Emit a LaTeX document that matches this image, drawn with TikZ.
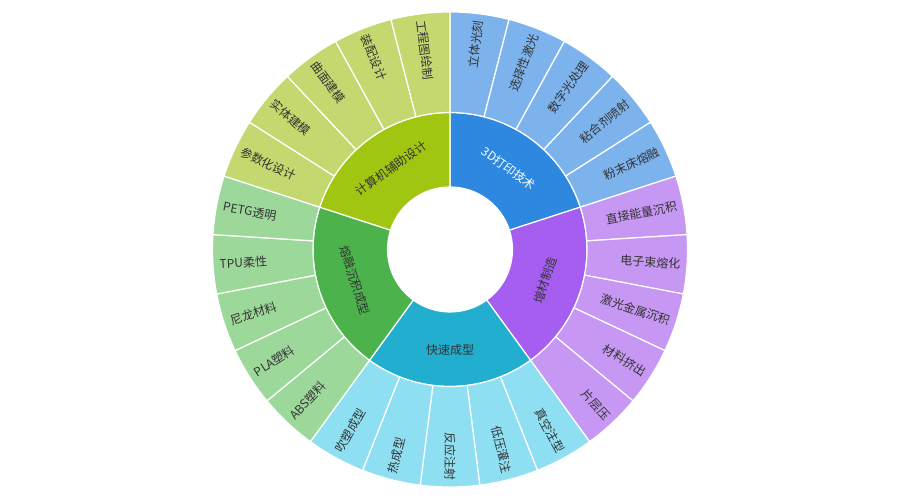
\documentclass[tikz,border=0pt]{standalone}
\usepackage{fontspec}
\setmainfont{Noto Sans CJK SC}
\definecolor{txt}{HTML}{333333}
\definecolor{inner0}{HTML}{2F88E0}
\definecolor{inner1}{HTML}{A65EF0}
\definecolor{inner2}{HTML}{22AECF}
\definecolor{inner3}{HTML}{4CB24C}
\definecolor{inner4}{HTML}{A1C612}
\definecolor{outer0}{HTML}{7DB3EC}
\definecolor{outer1}{HTML}{C697F3}
\definecolor{outer2}{HTML}{8FDFF2}
\definecolor{outer3}{HTML}{9DD89B}
\definecolor{outer4}{HTML}{C4D870}
\newcommand\sbwedge[5]{%
  \path[seg, fill=#5] (#3:#1pt) arc[start angle=#3, end angle=#4, radius=#1pt]
    -- (#4:#2pt) arc[start angle=#4, end angle=#3, radius=#2pt] -- cycle;}
\begin{document}
\begin{tikzpicture}[x=1pt,y=1pt,
  seg/.style={draw=white, line width=1.2pt, line join=round},
  lbl/.style={font=\fontsize{12}{14}\selectfont, text=txt, inner sep=0pt},
]
\fill[white] (0,0) rectangle (900,500);
\useasboundingbox (0,0) rectangle (900,500);
\begin{scope}[shift={(450,250.5)}]
  % inner ring
  \foreach \g in {0,...,4} {
    \pgfmathsetmacro\aa{90-72*\g}
    \pgfmathsetmacro\ab{90-72*(\g+1)}
    \sbwedge{62.5}{137}{\aa}{\ab}{inner\g}
  }
  % outer ring
  \foreach \k in {0,...,24} {
    \pgfmathsetmacro\aa{90-14.4*\k}
    \pgfmathsetmacro\ab{90-14.4*(\k+1)}
    \pgfmathtruncatemacro\gg{\k/5}
    \sbwedge{137}{237.5}{\aa}{\ab}{outer\gg}
  }
  % outer labels
  \foreach \t [count=\i from 0] in {立体光刻,选择性激光,数字光处理,粘合剂喷射,粉末床熔融,
      直接能量沉积,电子束熔化,激光金属沉积,材料挤出,片层压,
      真空注型,低压灌注,反应注射,热成型,吹塑成型,
      ABS塑料,PLA塑料,尼龙材料,TPU柔性,PETG透明,
      参数化设计,实体建模,曲面建模,装配设计,工程图绘制} {
    \pgfmathsetmacro\mid{90-14.4*(\i+0.5)}
    \ifdim \mid pt < -90.5pt
      \node[lbl, rotate=\mid+180, anchor=west] (o\i) at (\mid:231pt) {\t};
    \else
      \node[lbl, rotate=\mid, anchor=east] (o\i) at (\mid:231pt) {\t};
    \fi
  }
  % inner labels
  \node[lbl, text=white, rotate=-36] (c0) at (54:100pt) {3D打印技术};
  \node[lbl, rotate=72] (c1) at (-18:100pt) {增材制造};
  \node[lbl, rotate=0] (c2) at (-90:100pt) {快速成型};
  \node[lbl, rotate=-72] (c3) at (-162:100pt) {熔融沉积成型};
  \node[lbl, rotate=36] (c4) at (-234:100pt) {计算机辅助设计};
\end{scope}
\end{tikzpicture}
\end{document}
